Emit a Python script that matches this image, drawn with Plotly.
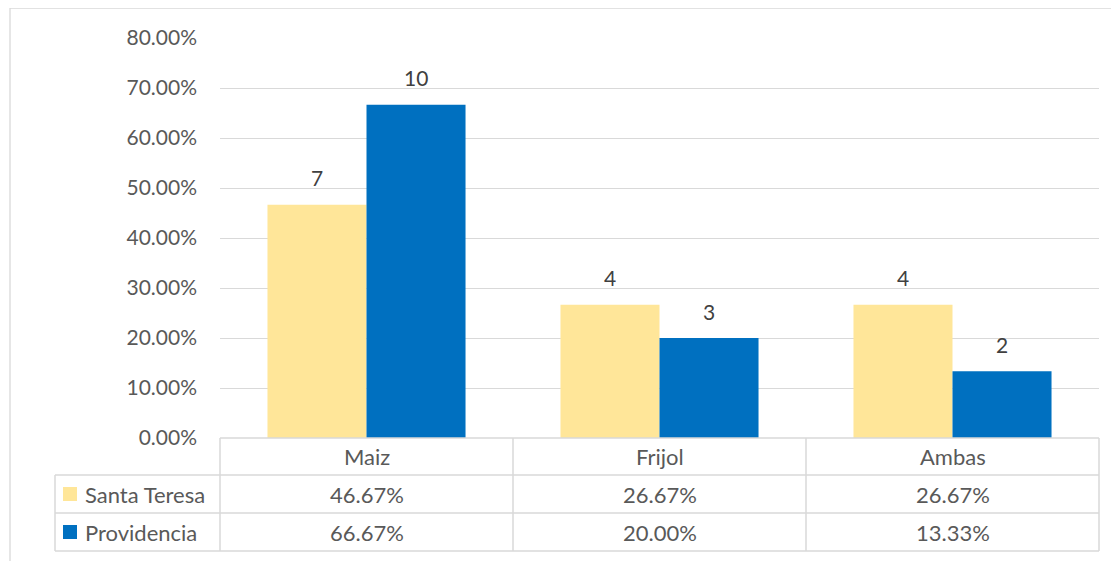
import plotly.graph_objects as go

categories = ["Maiz", "Frijol", "Ambas"]
series_names = ["Santa Teresa", "Providencia"]
santa_pct = [0.4667, 0.2667, 0.2667]
provi_pct = [0.6667, 0.2000, 0.1333]
santa_count = [7, 4, 4]
provi_count = [10, 3, 2]
y_ticks = [0, 0.1, 0.2, 0.3, 0.4, 0.5, 0.6, 0.7, 0.8]

OFF = 8  # page body margin
W, H = 1119, 561
L, T = 220 - OFF, 38 - OFF
R = W - (1099 - OFF)
B = H - (438 - OFF)
PW, PH = W - L - R, H - T - B

def px(x):
    return (x - OFF - L) / PW

def py(y):
    return (H - B - (y - OFF)) / PH

FONT = "Lato"
TXT = "#595959"
GRID = "#d9d9d9"
colors = ["#FFE699", "#0070C0"]

fig = go.Figure()
for name, vals, col in [(series_names[0], santa_pct, colors[0]), (series_names[1], provi_pct, colors[1])]:
    fig.add_trace(go.Bar(x=categories, y=vals, name=name, marker=dict(color=col, line=dict(width=0))))

annotations = []
# data labels
bar_half = PW / 3 * (1 - 0.324) / 4
for counts, vals, shift in [(santa_count, santa_pct, -bar_half), (provi_count, provi_pct, bar_half)]:
    for c, v, n in zip(categories, vals, counts):
        annotations.append(dict(x=c, y=v, xref="x", yref="y", text=str(n), showarrow=False,
                                xshift=shift, yshift=27, yanchor="middle",
                                font=dict(family=FONT, size=21, color="#404040")))

# table header row and values
row_y = [456, 494, 532]
for c in categories:
    annotations.append(dict(x=c, y=py(row_y[0]), xref="x", yref="paper", text=c, showarrow=False,
                            yanchor="middle", font=dict(family=FONT, size=22, color=TXT)))
for ri, vals in enumerate([santa_pct, provi_pct]):
    for c, v in zip(categories, vals):
        annotations.append(dict(x=c, y=py(row_y[ri + 1]), xref="x", yref="paper", text=f"{v:.2%}",
                                showarrow=False, yanchor="middle",
                                font=dict(family=FONT, size=22, color=TXT)))
    annotations.append(dict(x=px(83), y=py(row_y[ri + 1]), xref="paper", yref="paper",
                            text=series_names[ri], showarrow=False, xanchor="left", yanchor="middle",
                            font=dict(family=FONT, size=22, color=TXT)))

shapes = []
# outer border
shapes.append(dict(type="rect", xref="paper", yref="paper", x0=px(10), x1=px(1135), y0=py(580), y1=py(8),
                   line=dict(color=GRID, width=1.3), layer="below"))

def hline(x0, x1, y):
    shapes.append(dict(type="line", xref="paper", yref="paper", x0=px(x0), x1=px(x1), y0=py(y), y1=py(y),
                       line=dict(color=GRID, width=1.5)))

def vline(x, y0, y1):
    shapes.append(dict(type="line", xref="paper", yref="paper", x0=px(x), x1=px(x), y0=py(y0), y1=py(y1),
                       line=dict(color=GRID, width=1.5)))

hline(220, 1099, 438)
hline(55, 1099, 475)
hline(55, 1099, 513)
hline(55, 1099, 551)
vline(55, 475, 551)
for xx in [220, 513, 806, 1099]:
    vline(xx, 438, 551)
# legend keys
for ri, col in enumerate(colors):
    yc = row_y[ri + 1]
    shapes.append(dict(type="rect", xref="paper", yref="paper", x0=px(63), x1=px(77), y0=py(yc + 7), y1=py(yc - 7),
                       fillcolor=col, line=dict(width=0)))

fig.update_layout(
    width=W, height=H,
    margin=dict(l=L, r=R, t=T, b=B),
    paper_bgcolor="white", plot_bgcolor="white",
    barmode="group", bargap=0.324, bargroupgap=0,
    showlegend=False,
    font=dict(family=FONT, size=21, color=TXT),
    xaxis=dict(showticklabels=False, showgrid=False, zeroline=False, showline=False, ticks=""),
    yaxis=dict(range=[0, 0.8], tickvals=y_ticks, tickformat=".2%", showgrid=True, gridcolor=GRID,
               gridwidth=1.3, zeroline=False, showline=False, ticks="", ticklabelstandoff=22,
               tickfont=dict(family=FONT, size=21, color=TXT)),
    annotations=annotations,
    shapes=shapes,
)

fig.write_html("out.html")
